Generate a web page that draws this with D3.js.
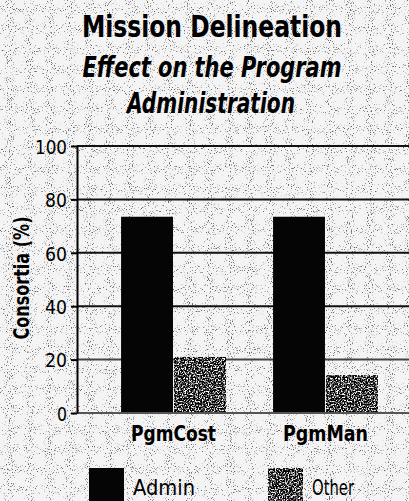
<!DOCTYPE html>
<html>
<head>
<meta charset="utf-8">
<script src="https://cdn.jsdelivr.net/npm/d3@7/dist/d3.min.js"></script>
<style>
  html, body { margin: 0; padding: 0; background: #fff; }
  svg { display: block; }
  text { font-family: "Liberation Sans Narrow", "DejaVu Sans Condensed", sans-serif; fill: #000; }
</style>
</head>
<body>
<div id="chart"></div>
<script>
// chart values
var categories = ["PgmCost", "PgmMan"];
var series = ["Admin", "Other"];
var admin_values = [73.5, 73.5];
var other_values = [21, 14.2];
var y_ticks = [0, 20, 40, 60, 80, 100];
var title_lines = ["Mission Delineation", "Effect on the Program", "Administration"];
var y_label = "Consortia (%)";

var w = 409, h = 501;
var plot = {l: 77, r: 422, t: 146, b: 413};
var colors = {Admin: "#050505", Other: "#666"};

// rows for grouped bars
var rows = categories.map(function(c, i) {
  return {cat: c, Admin: admin_values[i], Other: other_values[i]};
});

var svg = d3.select("#chart").append("svg")
  .attr("width", w).attr("height", h);

// halftone look: stipple for the paper, coarse grain for "Other"
var defs = svg.append("defs");
var bgf = defs.append("filter").attr("id", "paper")
  .attr("filterUnits", "userSpaceOnUse").attr("x", 0).attr("y", 0)
  .attr("width", w).attr("height", h)
  .attr("color-interpolation-filters", "sRGB");
bgf.append("feTurbulence").attr("type", "fractalNoise")
  .attr("baseFrequency", 0.95).attr("numOctaves", 1).attr("seed", 9);
bgf.append("feColorMatrix").attr("type", "matrix")
  .attr("values", "0 0 0 0 0.4  0 0 0 0 0.4  0 0 0 0 0.4  8 0 0 0 -4.85");

var otf = defs.append("filter").attr("id", "grain")
  .attr("filterUnits", "userSpaceOnUse").attr("x", 0).attr("y", 0)
  .attr("width", w).attr("height", h)
  .attr("color-interpolation-filters", "sRGB");
otf.append("feTurbulence").attr("type", "fractalNoise")
  .attr("baseFrequency", 0.7).attr("numOctaves", 2).attr("seed", 5);
otf.append("feColorMatrix").attr("type", "matrix")
  .attr("values", "4 0 0 0 -1.75  4 0 0 0 -1.75  4 0 0 0 -1.75  0 0 0 0 1");
otf.append("feComposite").attr("in2", "SourceGraphic").attr("operator", "in");

// background
svg.append("rect").attr("width", w).attr("height", h).style("fill", "#f4f4f4");
svg.append("rect").attr("width", w).attr("height", h).style("fill", "#fff")
  .attr("filter", "url(#paper)");

// stretch a text to a wanted width
var fit = function(sel, width) {
  sel.attr("textLength", width).attr("lengthAdjust", "spacingAndGlyphs");
};

// titles
svg.append("text").attr("x", 212).attr("y", 37).attr("text-anchor", "middle")
  .style("font-size", "31px").style("font-weight", "bold")
  .text(title_lines[0]).call(fit, 260);
svg.append("text").attr("x", 212).attr("y", 77).attr("text-anchor", "middle")
  .style("font-size", "28px").style("font-weight", "bold").style("font-style", "italic")
  .text(title_lines[1]).call(fit, 259);
svg.append("text").attr("x", 211).attr("y", 113).attr("text-anchor", "middle")
  .style("font-size", "28px").style("font-weight", "bold").style("font-style", "italic")
  .text(title_lines[2]).call(fit, 168);

var x = d3.scaleBand().domain(categories).range([plot.l, plot.r])
  .paddingInner(0.31).paddingOuter(0.29);
var xs = d3.scaleBand().domain(series).range([0, x.bandwidth()]).paddingInner(0.02);
var y = d3.scaleLinear().domain([0, 100]).range([plot.b, plot.t]);

// grid lines
svg.append("g").selectAll("line").data(y_ticks.filter(function(d) { return d > 0; }))
  .enter().append("line")
  .attr("x1", plot.l).attr("x2", plot.r)
  .attr("y1", function(d) { return y(d); }).attr("y2", function(d) { return y(d); })
  .style("stroke", function(d) { return d == 20 ? "#444" : "#111"; })
  .style("stroke-width", 2);

// bars
svg.append("g").selectAll("g").data(rows).enter().append("g")
  .attr("transform", function(d) { return "translate(" + x(d.cat) + ",0)"; })
  .selectAll("rect")
  .data(function(d) { return series.map(function(s) { return {key: s, value: d[s]}; }); })
  .enter().append("rect")
  .attr("x", function(d) { return xs(d.key); })
  .attr("y", function(d) { return y(d.value); })
  .attr("width", xs.bandwidth())
  .attr("height", function(d) { return y(0) - y(d.value); })
  .style("fill", function(d) { return colors[d.key]; })
  .attr("filter", function(d) { return d.key == "Other" ? "url(#grain)" : null; });

// baseline
svg.append("line").attr("x1", plot.l).attr("x2", plot.r)
  .attr("y1", y(0)).attr("y2", y(0))
  .style("stroke", "#555").style("stroke-width", 2);

// y axis
var yAxis = svg.append("g").attr("transform", "translate(" + plot.l + ",0)")
  .call(d3.axisLeft(y).tickValues(y_ticks).tickSize(6).tickSizeOuter(0).tickPadding(4));
yAxis.select(".domain").style("stroke", "#000").style("stroke-width", 2);
yAxis.selectAll(".tick line").style("stroke", "#000").style("stroke-width", 2);
yAxis.selectAll(".tick text").style("font-size", "20px")
  .style("font-family", "'Liberation Sans Narrow', 'DejaVu Sans Condensed', sans-serif")
  .attr("dy", "0.36em")
  .each(function(d) { d3.select(this).call(fit, d == 100 ? 32 : (d == 0 ? 10 : 22)); });

// y label
svg.append("text").attr("transform", "translate(29,278) rotate(-90)")
  .attr("text-anchor", "middle")
  .style("font-size", "21px").style("font-weight", "bold")
  .text(y_label).call(fit, 123);

// x labels
svg.append("g").selectAll("text").data(categories).enter().append("text")
  .attr("x", function(d) { return x(d) + x.bandwidth() / 2; })
  .attr("y", 441).attr("text-anchor", "middle")
  .style("font-size", "21px").style("font-weight", "bold")
  .text(function(d) { return d; })
  .call(fit, 85);

// legend
var leg = svg.append("g").selectAll("g").data(series).enter().append("g")
  .attr("transform", function(d, i) { return "translate(" + (89 + i * 179) + ",468)"; });
leg.append("rect").attr("width", 35).attr("height", 36)
  .style("fill", function(d) { return colors[d]; })
  .attr("filter", function(d) { return d == "Other" ? "url(#grain)" : null; });
leg.append("text").attr("x", 44).attr("y", 27)
  .style("font-size", "22px")
  .text(function(d) { return d; })
  .each(function(d) { d3.select(this).call(fit, d == "Admin" ? 62 : 42); });
</script>
</body>
</html>
